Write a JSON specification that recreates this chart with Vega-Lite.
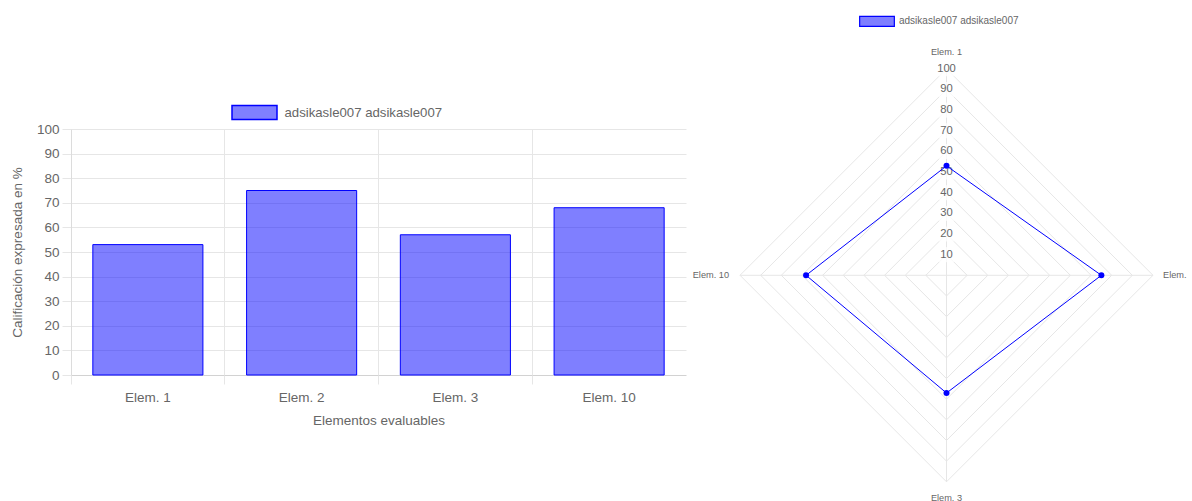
{
  "$schema": "https://vega.github.io/schema/vega-lite/v6.json",
  "background": "white",
  "padding": {"left": 10, "top": 3, "right": 0, "bottom": 0},
  "bounds": "flush",
  "spacing": 62,
  "config": {
    "view": {"stroke": null},
    "font": "Liberation Sans",
    "axis": {"labelColor": "#666666", "titleColor": "#666666", "labelFont": "Liberation Sans", "titleFont": "Liberation Sans", "titleFontWeight": "normal", "labelFontSize": 13.5, "titleFontSize": 13.5},
    "legend": {"padding": 0, "labelColor": "#666666", "labelFont": "Liberation Sans", "title": null}
  },
  "datasets": {
    "puntuaciones": [
      {"elemento": "Elem. 1", "valor": 53, "orden": 0, "serie": "adsikasle007 adsikasle007"},
      {"elemento": "Elem. 2", "valor": 75, "orden": 1, "serie": "adsikasle007 adsikasle007"},
      {"elemento": "Elem. 3", "valor": 57, "orden": 2, "serie": "adsikasle007 adsikasle007"},
      {"elemento": "Elem. 10", "valor": 68, "orden": 3, "serie": "adsikasle007 adsikasle007"}
    ],
    "escala": [
      {"r": 10}, {"r": 20}, {"r": 30}, {"r": 40}, {"r": 50},
      {"r": 60}, {"r": 70}, {"r": 80}, {"r": 90}, {"r": 100}
    ]
  },
  "resolve": {"scale": {"color": "independent"}, "legend": {"color": "independent"}},
  "hconcat": [
    {
      "width": 607,
      "height": 246,
      "data": {"name": "puntuaciones"},
      "resolve": {"axis": {"x": "independent"}},
      "layer": [
        {
          "mark": {"type": "bar", "opacity": 0},
          "encoding": {
            "x": {"field": "elemento", "type": "nominal", "sort": ["Elem. 1", "Elem. 2", "Elem. 3", "Elem. 10"],
                  "scale": {"paddingInner": 0, "paddingOuter": 0, "range": [0, 615]},
                  "axis": {"orient": "bottom", "title": null, "labels": false, "bandPosition": 0, "grid": true, "gridColor": "#e6e6e6", "ticks": true, "tickSize": 9, "tickColor": "#e6e6e6", "domain": false}}
          }
        },
        {
          "mark": {"type": "bar", "width": {"band": 0.716}, "stroke": "#0000ff", "strokeWidth": 1},
          "encoding": {
            "x": {"field": "elemento", "type": "nominal", "sort": ["Elem. 1", "Elem. 2", "Elem. 3", "Elem. 10"],
                  "scale": {"paddingInner": 0, "paddingOuter": 0, "range": [0, 615]},
                  "axis": {"orient": "bottom", "title": "Elementos evaluables", "labelAngle": 0, "grid": false, "tickSize": 9, "tickOpacity": 0, "domain": false, "labelPadding": 6, "titlePadding": 10}},
            "y": {"field": "valor", "type": "quantitative", "scale": {"domain": [0, 100], "nice": false},
                  "axis": {"title": "Calificación expresada en %", "values": [0, 10, 20, 30, 40, 50, 60, 70, 80, 90, 100], "grid": true,
                           "gridColor": {"condition": {"test": "datum.value === 0", "value": "#d2d2d2"}, "value": "#e6e6e6"},
                           "tickSize": 9, "tickColor": "#e6e6e6", "domainColor": "#dcdcdc", "labelPadding": 3, "titlePadding": 12}},
            "color": {"field": "serie", "type": "nominal", "scale": {"range": ["rgba(0,0,255,0.5)"]},
                      "legend": {"orient": "none", "legendX": 160, "legendY": -40, "symbolType": "M-1,-0.31L1,-0.31L1,0.31L-1,0.31Z", "symbolSize": 2025, "labelFontSize": 13.2, "labelOffset": 6.5,
                                 "encode": {"symbols": {"update": {"fill": {"value": "rgba(0,0,255,0.5)"}, "stroke": {"value": "#0000ff"}, "strokeWidth": {"value": 1.3}}}}}}
          }
        }
      ]
    },
    {
      "width": 413,
      "height": 246,
      "layer": [
        {
          "data": {"name": "escala"},
          "transform": [{"calculate": "-datum.r", "as": "nr"}, {"calculate": "0", "as": "z"}],
          "mark": {"type": "rule", "color": "#e6e6e6", "strokeWidth": 1},
          "encoding": {
            "x": {"field": "z", "type": "quantitative", "scale": {"domain": [-100, 100], "nice": false, "zero": false}, "axis": null},
            "y": {"field": "r", "type": "quantitative", "scale": {"domain": [-48.28, 70.85], "nice": false, "zero": false}, "axis": null},
            "x2": {"field": "r"},
            "y2": {"field": "z"}
          }
        },
        {
          "data": {"name": "escala"},
          "transform": [{"calculate": "-datum.r", "as": "nr"}, {"calculate": "0", "as": "z"}],
          "mark": {"type": "rule", "color": "#e6e6e6", "strokeWidth": 1},
          "encoding": {
            "x": {"field": "r", "type": "quantitative", "scale": {"domain": [-100, 100], "nice": false, "zero": false}, "axis": null},
            "y": {"field": "z", "type": "quantitative", "scale": {"domain": [-48.28, 70.85], "nice": false, "zero": false}, "axis": null},
            "x2": {"field": "z"},
            "y2": {"field": "nr"}
          }
        },
        {
          "data": {"name": "escala"},
          "transform": [{"calculate": "-datum.r", "as": "nr"}, {"calculate": "0", "as": "z"}],
          "mark": {"type": "rule", "color": "#e6e6e6", "strokeWidth": 1},
          "encoding": {
            "x": {"field": "z", "type": "quantitative", "scale": {"domain": [-100, 100], "nice": false, "zero": false}, "axis": null},
            "y": {"field": "nr", "type": "quantitative", "scale": {"domain": [-48.28, 70.85], "nice": false, "zero": false}, "axis": null},
            "x2": {"field": "nr"},
            "y2": {"field": "z"}
          }
        },
        {
          "data": {"name": "escala"},
          "transform": [{"calculate": "-datum.r", "as": "nr"}, {"calculate": "0", "as": "z"}],
          "mark": {"type": "rule", "color": "#e6e6e6", "strokeWidth": 1},
          "encoding": {
            "x": {"field": "nr", "type": "quantitative", "scale": {"domain": [-100, 100], "nice": false, "zero": false}, "axis": null},
            "y": {"field": "z", "type": "quantitative", "scale": {"domain": [-48.28, 70.85], "nice": false, "zero": false}, "axis": null},
            "x2": {"field": "z"},
            "y2": {"field": "r"}
          }
        },
        {
          "data": {"name": "escala"},
          "transform": [{"filter": "datum.r == 100"}, {"calculate": "-datum.r", "as": "nr"}, {"calculate": "0", "as": "z"}],
          "mark": {"type": "rule", "color": "#e6e6e6", "strokeWidth": 1},
          "encoding": {
            "x": {"field": "z", "type": "quantitative", "scale": {"domain": [-100, 100], "nice": false, "zero": false}, "axis": null},
            "y": {"field": "nr", "type": "quantitative", "scale": {"domain": [-48.28, 70.85], "nice": false, "zero": false}, "axis": null},
            "x2": {"field": "z"},
            "y2": {"field": "r"}
          }
        },
        {
          "data": {"name": "escala"},
          "transform": [{"filter": "datum.r == 100"}, {"calculate": "-datum.r", "as": "nr"}, {"calculate": "0", "as": "z"}],
          "mark": {"type": "rule", "color": "#e6e6e6", "strokeWidth": 1},
          "encoding": {
            "x": {"field": "nr", "type": "quantitative", "scale": {"domain": [-100, 100], "nice": false, "zero": false}, "axis": null},
            "x2": {"field": "r"},
            "y": {"field": "z", "type": "quantitative", "scale": {"domain": [-48.28, 70.85], "nice": false, "zero": false}, "axis": null},
            "y2": {"field": "z"}
          }
        },
        {
          "data": {"name": "escala"},
          "transform": [{"filter": "datum.r < 100"}, {"calculate": "0", "as": "z"}],
          "mark": {"type": "point", "shape": "M-1,-0.91L1,-0.91L1,0.91L-1,0.91Z", "size": 272, "filled": true, "color": "white", "opacity": 0.75, "strokeWidth": 0},
          "encoding": {
            "x": {"field": "z", "type": "quantitative", "scale": {"domain": [-100, 100], "nice": false, "zero": false}, "axis": null},
            "y": {"field": "r", "type": "quantitative", "scale": {"domain": [-48.28, 70.85], "nice": false, "zero": false}, "axis": null}
          }
        },
        {
          "data": {"name": "escala"},
          "transform": [{"filter": "datum.r == 100"}, {"calculate": "0", "as": "z"}],
          "mark": {"type": "point", "shape": "M-1,-0.66L1,-0.66L1,0.66L-1,0.66Z", "size": 515, "filled": true, "color": "white", "opacity": 0.75, "strokeWidth": 0},
          "encoding": {
            "x": {"field": "z", "type": "quantitative", "scale": {"domain": [-100, 100], "nice": false, "zero": false}, "axis": null},
            "y": {"field": "r", "type": "quantitative", "scale": {"domain": [-48.28, 70.85], "nice": false, "zero": false}, "axis": null}
          }
        },
        {
          "data": {"name": "escala"},
          "transform": [{"calculate": "0", "as": "z"}],
          "mark": {"type": "text", "fontSize": 11.2, "color": "#666666", "align": "center", "baseline": "middle", "font": "Liberation Sans"},
          "encoding": {
            "x": {"field": "z", "type": "quantitative", "scale": {"domain": [-100, 100], "nice": false, "zero": false}, "axis": null},
            "y": {"field": "r", "type": "quantitative", "scale": {"domain": [-48.28, 70.85], "nice": false, "zero": false}, "axis": null},
            "text": {"field": "r", "type": "quantitative"}
          }
        },
        {
          "data": {"name": "puntuaciones"},
          "transform": [
            {"calculate": "datum.valor * sin(datum.orden * PI / 2)", "as": "px"},
            {"calculate": "datum.valor * cos(datum.orden * PI / 2)", "as": "py"}
          ],
          "mark": {"type": "line", "interpolate": "linear-closed", "color": "#0000ff", "strokeWidth": 1},
          "encoding": {
            "x": {"field": "px", "type": "quantitative", "scale": {"domain": [-100, 100], "nice": false, "zero": false}, "axis": null},
            "y": {"field": "py", "type": "quantitative", "scale": {"domain": [-48.28, 70.85], "nice": false, "zero": false}, "axis": null},
            "order": {"field": "orden", "type": "quantitative"}
          }
        },
        {
          "data": {"name": "puntuaciones"},
          "transform": [
            {"calculate": "datum.valor * sin(datum.orden * PI / 2)", "as": "px"},
            {"calculate": "datum.valor * cos(datum.orden * PI / 2)", "as": "py"}
          ],
          "mark": {"type": "point", "filled": true, "size": 0, "opacity": 1},
          "encoding": {
            "x": {"field": "px", "type": "quantitative", "scale": {"domain": [-100, 100], "nice": false, "zero": false}, "axis": null},
            "y": {"field": "py", "type": "quantitative", "scale": {"domain": [-48.28, 70.85], "nice": false, "zero": false}, "axis": null},
            "color": {"field": "serie", "type": "nominal", "scale": {"range": ["rgba(0,0,255,0.5)"]},
                      "legend": {"orient": "none", "legendX": 119, "legendY": -125.65, "symbolType": "M-1,-0.29L1,-0.29L1,0.29L-1,0.29Z", "symbolSize": 1204, "labelFontSize": 10, "labelOffset": 4, "symbolStrokeColor": "#0000ff", "symbolStrokeWidth": 1.2,
                                 "encode": {"symbols": {"update": {"fill": {"value": "rgba(0,0,255,0.5)"}, "stroke": {"value": "#0000ff"}, "strokeWidth": {"value": 1.2}, "size": {"value": 1204}, "opacity": {"value": 1}}}}}}
          }
        },
        {
          "data": {"name": "puntuaciones"},
          "transform": [
            {"calculate": "datum.valor * sin(datum.orden * PI / 2)", "as": "px"},
            {"calculate": "datum.valor * cos(datum.orden * PI / 2)", "as": "py"}
          ],
          "mark": {"type": "point", "filled": true, "size": 36, "opacity": 1, "color": "#0000ff"},
          "encoding": {
            "x": {"field": "px", "type": "quantitative", "scale": {"domain": [-100, 100], "nice": false, "zero": false}, "axis": null},
            "y": {"field": "py", "type": "quantitative", "scale": {"domain": [-48.28, 70.85], "nice": false, "zero": false}, "axis": null}
          }
        },
        {
          "data": {"name": "puntuaciones"},
          "transform": [
            {"filter": "datum.orden == 0 || datum.orden == 2"},
            {"calculate": "100 * sin(datum.orden * PI / 2)", "as": "lx"},
            {"calculate": "100 * cos(datum.orden * PI / 2)", "as": "ly"}
          ],
          "mark": {"type": "text", "fontSize": 9.2, "color": "#666666", "align": "center", "baseline": "middle", "font": "Liberation Sans", "dy": {"expr": "datum.orden == 0 ? -17 : 16"}},
          "encoding": {
            "x": {"field": "lx", "type": "quantitative", "scale": {"domain": [-100, 100], "nice": false, "zero": false}, "axis": null},
            "y": {"field": "ly", "type": "quantitative", "scale": {"domain": [-48.28, 70.85], "nice": false, "zero": false}, "axis": null},
            "text": {"field": "elemento", "type": "nominal"}
          }
        },
        {
          "data": {"name": "puntuaciones"},
          "transform": [
            {"filter": "datum.orden == 1"},
            {"calculate": "100 * sin(datum.orden * PI / 2)", "as": "lx"},
            {"calculate": "100 * cos(datum.orden * PI / 2)", "as": "ly"}
          ],
          "mark": {"type": "text", "fontSize": 9.2, "color": "#666666", "align": "left", "baseline": "middle", "dx": 10, "limit": 29, "ellipsis": "\u200b", "font": "Liberation Sans"},
          "encoding": {
            "x": {"field": "lx", "type": "quantitative", "scale": {"domain": [-100, 100], "nice": false, "zero": false}, "axis": null},
            "y": {"field": "ly", "type": "quantitative", "scale": {"domain": [-48.28, 70.85], "nice": false, "zero": false}, "axis": null},
            "text": {"field": "elemento", "type": "nominal"}
          }
        },
        {
          "data": {"name": "puntuaciones"},
          "transform": [
            {"filter": "datum.orden == 3"},
            {"calculate": "100 * sin(datum.orden * PI / 2)", "as": "lx"},
            {"calculate": "100 * cos(datum.orden * PI / 2)", "as": "ly"}
          ],
          "mark": {"type": "text", "fontSize": 9.2, "color": "#666666", "align": "right", "baseline": "middle", "dx": -11, "font": "Liberation Sans"},
          "encoding": {
            "x": {"field": "lx", "type": "quantitative", "scale": {"domain": [-100, 100], "nice": false, "zero": false}, "axis": null},
            "y": {"field": "ly", "type": "quantitative", "scale": {"domain": [-48.28, 70.85], "nice": false, "zero": false}, "axis": null},
            "text": {"field": "elemento", "type": "nominal"}
          }
        }
      ]
    }
  ]
}
